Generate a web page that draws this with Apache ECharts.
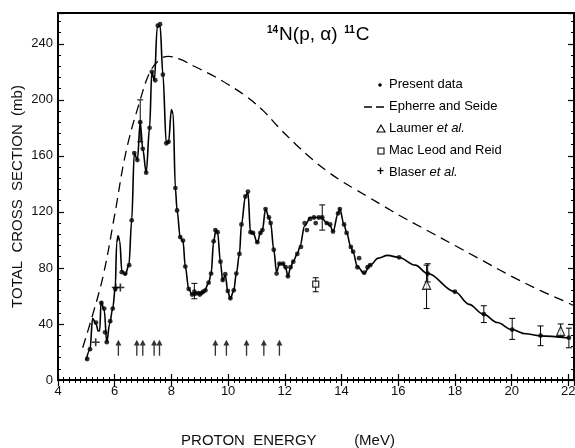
<!DOCTYPE html>
<html>
<head>
<meta charset="utf-8">
<script src="https://cdn.jsdelivr.net/npm/echarts@6/dist/echarts.min.js"></script>
<style>
  html, body { margin: 0; padding: 0; background: #fff; }
  #chart-container { width: 575px; height: 448px; }
</style>
</head>
<body>
<div id="chart-container"></div>
<script>
// energy (MeV), cross section (mb)
var presentData = [
  [5.03, 15], [5.13, 22], [5.34, 41], [5.53, 55], [5.63, 51], [5.66, 34], [5.72, 27],
  [5.84, 42], [5.93, 51], [6.02, 65], [6.25, 77], [6.37, 76], [6.51, 82], [6.6, 114],
  [6.69, 162], [6.8, 157], [6.9, 184], [6.99, 165], [7.11, 148], [7.23, 180], [7.31, 220],
  [7.43, 214], [7.52, 253], [7.6, 254], [7.7, 218], [7.82, 169], [7.9, 170], [8.14, 137],
  [8.2, 121], [8.31, 102], [8.41, 99.5], [8.49, 81], [8.61, 65], [8.73, 61], [8.81, 63],
  [8.84, 61.5], [8.95, 62], [9.0, 61], [9.05, 62], [9.12, 63], [9.2, 64], [9.31, 69.5],
  [9.4, 76], [9.49, 99], [9.55, 107], [9.63, 105.5], [9.73, 84.5], [9.81, 71.4], [9.9, 75.5],
  [9.99, 63.6], [10.08, 58.3], [10.2, 64], [10.29, 76], [10.4, 90], [10.47, 111], [10.61, 131],
  [10.7, 134.5], [10.79, 105.5], [10.88, 105], [11.03, 98.4], [11.14, 105], [11.21, 107],
  [11.32, 122], [11.44, 116], [11.5, 112], [11.61, 93], [11.71, 76], [11.81, 83], [11.94, 83],
  [12.03, 80.5], [12.11, 74], [12.2, 80.5], [12.3, 84.5], [12.44, 90], [12.57, 95], [12.7, 112],
  [12.78, 107], [12.89, 115], [13.03, 116], [13.09, 112], [13.2, 116], [13.32, 116],
  [13.48, 112], [13.6, 111], [13.7, 106], [13.88, 119], [13.94, 122], [14.09, 111],
  [14.18, 105], [14.33, 95], [14.41, 91.6], [14.56, 80.5], [14.62, 87], [14.8, 76.6],
  [14.92, 80.5], [15.01, 82], [16.03, 87.6], [17.04, 76], [18.0, 63], [19.02, 47],
  [20.02, 36], [21.02, 31.7], [22.02, 30.2]
];

// smooth curve through the present data
var fitCurve = [
  [4.99, 14], [5.13, 22], [5.22, 44], [5.34, 40], [5.42, 35], [5.47, 35], [5.52, 56],
  [5.63, 50], [5.72, 27], [5.82, 40], [5.93, 51], [6.02, 66], [6.07, 98], [6.12, 103],
  [6.18, 99], [6.25, 78], [6.37, 75], [6.5, 82], [6.6, 114], [6.69, 162], [6.8, 157],
  [6.9, 184], [6.99, 165], [7.11, 148], [7.23, 180], [7.31, 220], [7.4, 214], [7.5, 252],
  [7.6, 253], [7.7, 218], [7.82, 169], [7.9, 170], [8.0, 193], [8.06, 190], [8.14, 137],
  [8.2, 121], [8.31, 102], [8.41, 99], [8.49, 81], [8.61, 65], [8.73, 61], [8.85, 62],
  [9.0, 62], [9.15, 63], [9.31, 69], [9.4, 76], [9.49, 99], [9.57, 107], [9.63, 105],
  [9.73, 84], [9.81, 71], [9.9, 75], [9.99, 63], [10.08, 58], [10.2, 64], [10.29, 76],
  [10.4, 90], [10.47, 111], [10.61, 131], [10.7, 134], [10.79, 105], [10.88, 105],
  [11.03, 98], [11.14, 105], [11.21, 107], [11.32, 122], [11.44, 116], [11.5, 112],
  [11.61, 93], [11.71, 77], [11.81, 83], [11.94, 83], [12.03, 80], [12.11, 74], [12.2, 80],
  [12.3, 85], [12.44, 90], [12.53, 95], [12.7, 110], [12.9, 116], [13.1, 116], [13.3, 116],
  [13.48, 112], [13.6, 110], [13.7, 106], [13.88, 119], [13.94, 122], [14.09, 111],
  [14.18, 105], [14.33, 95], [14.41, 91], [14.56, 81], [14.8, 76], [15.0, 82], [15.3, 87],
  [15.62, 89], [16.03, 87.5], [16.6, 82], [17.04, 76], [18.0, 63], [18.5, 54], [19.0, 47],
  [19.5, 41], [20.0, 36], [20.5, 33], [21.0, 31.5], [22.0, 30]
];

var epherreSeide = [
  [4.87, 23], [5.2, 45], [5.6, 75], [6.0, 118], [6.4, 163], [6.9, 200], [7.25, 220],
  [7.6, 229], [7.9, 231], [8.3, 229], [8.8, 224], [9.4, 218], [10.0, 211],
  [10.6, 203], [11.2, 193], [11.8, 180], [12.4, 168], [13.0, 157],
  [13.5, 149], [14.0, 142], [14.5, 136], [15.0, 130], [15.5, 124], [16.0, 118],
  [17.0, 107], [18.0, 96], [19.0, 85], [20.0, 74], [21.0, 64], [22.0, 55], [22.2, 53]
];

var laumer = [[17.0, 68], [21.73, 35]];
var macLeodReid = [[13.09, 68.4]];
var blaser = [[5.33, 27], [6.04, 66], [6.2, 66]];

// [energy, low, high]
var errorBars = [
  [6.9, 170, 200], [8.81, 58, 69], [13.32, 107, 125], [17.04, 70, 83], [19.02, 41, 53],
  [20.02, 29, 44], [21.02, 24.5, 38.6], [22.02, 23, 37], [17.0, 51, 82], [21.73, 31, 40],
  [13.09, 63, 73]
];

var arrowEnergies = [6.13, 6.78, 6.99, 7.39, 7.58, 9.55, 9.94, 10.65, 11.26, 11.81];
var arrowLevel = 23;

var xTicks = [4, 6, 8, 10, 12, 14, 16, 18, 20, 22];
var yTicks = [0, 40, 80, 120, 160, 200, 240];

var font = 'Liberation Sans, Arial, sans-serif';

var dom = document.getElementById('chart-container');
var myChart = echarts.init(dom, null, { renderer: 'canvas' });

var arrowPts = arrowEnergies.map(function (e) { return [e, arrowLevel]; });

var tickStyle = { show: true, inside: true, length: 6, lineStyle: { color: '#000', width: 1.2 } };
var minorStyle = { show: true, length: 3, lineStyle: { color: '#000', width: 1 } };

var option = {
  animation: false,
  backgroundColor: '#fff',
  grid: {
    left: 58, top: 13, width: 516, height: 367, outerBoundsMode: 'none',
    show: true, borderColor: '#000', borderWidth: 1.8
  },
  xAxis: [{
    type: 'value', min: 4, max: 22.2, interval: 2,
    axisLine: { lineStyle: { color: '#000', width: 1.8 } },
    axisTick: tickStyle,
    minorTick: Object.assign({ splitNumber: 10 }, minorStyle),
    splitLine: { show: false },
    axisLabel: {
      color: '#111', fontFamily: font, fontSize: 13, margin: 5, showMaxLabel: false,
      formatter: function (v) { return xTicks.indexOf(v) >= 0 ? String(v) : ''; }
    },
    name: 'PROTON  ENERGY         (MeV)', nameLocation: 'middle', nameGap: 53,
    nameTextStyle: { color: '#111', fontFamily: font, fontSize: 15, padding: [0, 56, 0, 0] }
  }, {
    type: 'value', min: 4, max: 22.2, interval: 2, position: 'top',
    axisLine: { lineStyle: { color: '#000', width: 1.8 } },
    axisTick: tickStyle,
    minorTick: Object.assign({ splitNumber: 10 }, minorStyle),
    splitLine: { show: false }, axisLabel: { show: false }
  }],
  yAxis: [{
    type: 'value', min: 0, max: 262, interval: 40,
    axisLine: { show: true, lineStyle: { color: '#000', width: 1.8 } },
    axisTick: tickStyle,
    minorTick: Object.assign({ splitNumber: 5 }, minorStyle),
    splitLine: { show: false },
    axisLabel: {
      color: '#111', fontFamily: font, fontSize: 13, margin: 5, showMaxLabel: false,
      formatter: function (v) { return yTicks.indexOf(v) >= 0 ? String(v) : ''; }
    },
    name: 'TOTAL  CROSS  SECTION  (mb)', nameLocation: 'middle', nameGap: 33, nameMoveOverlap: false,
    nameTextStyle: { color: '#111', fontFamily: font, fontSize: 15 }
  }, {
    type: 'value', min: 0, max: 262, interval: 40, position: 'right',
    axisLine: { show: true, lineStyle: { color: '#000', width: 1.8 } },
    axisTick: tickStyle,
    minorTick: Object.assign({ splitNumber: 5 }, minorStyle),
    splitLine: { show: false }, axisLabel: { show: false }
  }],
  series: [
    {
      name: 'Epherre and Seide', type: 'line', data: epherreSeide, smooth: 0.4,
      showSymbol: false, symbol: 'none',
      lineStyle: { color: '#000', width: 1.3, type: [10, 6] }, z: 2
    },
    {
      name: 'fit', type: 'line', data: fitCurve, smooth: 0.35, smoothMonotone: 'x',
      showSymbol: false, symbol: 'none',
      lineStyle: { color: '#000', width: 1.6 }, z: 3
    },
    {
      name: 'error', type: 'custom', data: errorBars, z: 4,
      renderItem: function (params, api) {
        var x = api.value(0);
        var lo = api.coord([x, api.value(1)]);
        var hi = api.coord([x, api.value(2)]);
        var c = 3;
        var st = { stroke: '#000', lineWidth: 1 };
        return {
          type: 'group', children: [
            { type: 'line', shape: { x1: lo[0], y1: lo[1], x2: hi[0], y2: hi[1] }, style: st },
            { type: 'line', shape: { x1: lo[0] - c, y1: lo[1], x2: lo[0] + c, y2: lo[1] }, style: st },
            { type: 'line', shape: { x1: hi[0] - c, y1: hi[1], x2: hi[0] + c, y2: hi[1] }, style: st }
          ]
        };
      }
    },
    {
      name: 'Present data', type: 'scatter', data: presentData, symbol: 'circle', symbolSize: 4.8,
      itemStyle: { color: '#000' }, z: 5
    },
    {
      name: 'Laumer et al.', type: 'scatter', data: laumer, symbol: 'triangle', symbolSize: [8, 9],
      itemStyle: { color: '#fff', borderColor: '#000', borderWidth: 1.3 }, z: 6
    },
    {
      name: 'MacLeod and Reid', type: 'scatter', data: macLeodReid, symbol: 'rect', symbolSize: 6,
      itemStyle: { color: '#fff', borderColor: '#000', borderWidth: 1.3 }, z: 6
    },
    {
      name: 'Blaser et al.', type: 'scatter', data: blaser,
      symbol: 'path://M4,0 L6,0 L6,4 L10,4 L10,6 L6,6 L6,10 L4,10 L4,6 L0,6 L0,4 L4,4 Z',
      symbolSize: 8, itemStyle: { color: '#000' }, z: 6
    },
    {
      name: 'arrows', type: 'scatter', data: arrowPts,
      symbol: 'path://M5,0 L9.5,8 L6,8 L6,22 L4,22 L4,8 L0.5,8 Z',
      symbolSize: [6, 16], itemStyle: { color: '#000' }, z: 6
    }
  ],
  graphic: [
    {
      type: 'text', left: 267, top: 25,
      style: {
        text: '{s|14}{n|N(p, α)}  {s|11}{n|C}',
        rich: {
          s: { fontFamily: font, fontSize: 10, fontWeight: 'bold', verticalAlign: 'top', padding: [0, 1, 9, 0], fill: '#000' },
          n: { fontFamily: font, fontSize: 19, fill: '#000' }
        }
      }
    },
    // legend
    { type: 'circle', shape: { cx: 380, cy: 85, r: 1.8 }, style: { fill: '#000' } },
    { type: 'text', left: 389, top: 78, style: { text: 'Present data', font: '13px ' + font, fill: '#000' } },
    { type: 'line', shape: { x1: 364, y1: 107, x2: 386, y2: 107 }, style: { stroke: '#000', lineWidth: 1.3, lineDash: [8, 4] } },
    { type: 'text', left: 389, top: 100, style: { text: 'Epherre and Seide', font: '13px ' + font, fill: '#000' } },
    { type: 'polygon', shape: { points: [[381, 125], [377, 132], [385, 132]] }, style: { fill: '#fff', stroke: '#000', lineWidth: 1.1 } },
    {
      type: 'text', left: 389, top: 122,
      style: {
        text: 'Laumer {i|et al.}', font: '13px ' + font, fill: '#000',
        rich: { i: { fontFamily: font, fontSize: 13, fontStyle: 'italic' } }
      }
    },
    { type: 'rect', shape: { x: 378, y: 148, width: 6, height: 6 }, style: { fill: '#fff', stroke: '#000', lineWidth: 1.1 } },
    { type: 'text', left: 389, top: 144, style: { text: 'Mac Leod and Reid', font: '13px ' + font, fill: '#000' } },
    { type: 'text', left: 377, top: 166, style: { text: '+', font: 'bold 12px ' + font, fill: '#000' } },
    {
      type: 'text', left: 389, top: 166,
      style: {
        text: 'Blaser {i|et al.}', font: '13px ' + font, fill: '#000',
        rich: { i: { fontFamily: font, fontSize: 13, fontStyle: 'italic' } }
      }
    }
  ]
};

if (option && typeof option === 'object') {
  myChart.setOption(option);
}

window.addEventListener('resize', myChart.resize);
</script>
</body>
</html>
